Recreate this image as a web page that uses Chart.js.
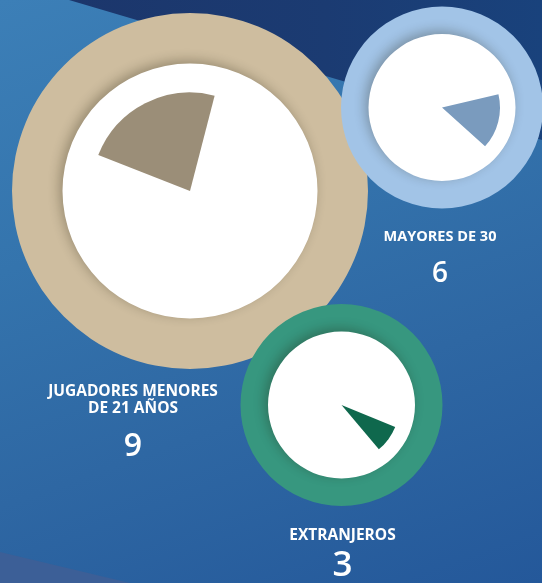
<!DOCTYPE html>
<html>
<head>
<meta charset="utf-8">
<script src="https://cdn.jsdelivr.net/npm/chart.js@4.4.1/dist/chart.umd.min.js"></script>
<style>
  html, body { margin: 0; padding: 0; }
  body { width: 542px; height: 583px; overflow: hidden; position: relative;
         font-family: "Open Sans", "Noto Sans", sans-serif; }
  #bg { position: absolute; left: 0; top: 0; width: 542px; height: 583px;
        background: linear-gradient(160deg, #3c7fb7 0%, #3474ad 35%, #2e67a3 65%, #24589a 100%); }
  #navy { position: absolute; left: 0; top: 0; width: 542px; height: 583px;
          background: linear-gradient(90deg, #1c356a 0%, #1b3b72 60%, #19427c 100%);
          clip-path: polygon(69px 0, 542px 0, 542px 140px); }
  #foot { position: absolute; left: 0; top: 0; width: 542px; height: 583px;
          background: #3c5f97;
          clip-path: polygon(0 552px, 130px 583px, 0 583px); }
  canvas.layer { position: absolute; left: 0; top: 0; }
  .lbl { position: absolute; width: 300px; text-align: center; color: #fff; white-space: nowrap; }
  .cat { font-weight: 700; }
  .num { font-weight: 600; }
</style>
</head>
<body>
<div id="bg"></div>
<div id="navy"></div>
<div id="foot"></div>
<div id="layers"></div>
<div id="labels"></div>
<script>
// ---- data ----
const categories = ['JUGADORES MENORES\nDE 21 AÑOS', 'MAYORES DE 30', 'EXTRANJEROS'];
const counts = [9, 6, 3];
const squadTotal = 39;

// ---- styling / layout (not data) ----
const ringColors  = ['#cebd9f', '#a2c4e7', '#37977f'];
const wedgeColors = ['#9b8e78', '#7a9bbe', '#0f684d'];
const centers     = [[190, 191], [442, 107.5], [341.5, 405]];
const outerR      = [178, 101, 101];
const innerR      = [127.5, 73.5, 73.5];
const wedgeR      = [98.5, 58, 58];
const wedgeStart  = [-68.6, 76.7, 112.2];
const labelStyle  = [
  { cx: 133, catTop: 381.5, catSize: 15.5, catLH: 17.8, numTop: 428, numSize: 32 },
  { cx: 440, catTop: 228, catSize: 14.5, catLH: 16,   numTop: 257, numSize: 28 },
  { cx: 342.5, catTop: 524.5, catSize: 15.5, catLH: 18, numTop: 545, numSize: 35 }
];
const W = 542, H = 583;

const shadowPlugin = {
  id: 'discShadow',
  beforeDatasetDraw(chart) {
    const ctx = chart.ctx;
    ctx.save();
    ctx.shadowColor = 'rgba(30,25,10,0.30)';
    ctx.shadowBlur = 12;
    ctx.shadowOffsetX = -3;
    ctx.shadowOffsetY = -3;
  },
  afterDatasetDraw(chart) { chart.ctx.restore(); }
};

function padFor(cx, cy) {
  return {
    left: Math.max(0, 2 * cx - W), right: Math.max(0, W - 2 * cx),
    top: Math.max(0, 2 * cy - H), bottom: Math.max(0, H - 2 * cy)
  };
}

function layer(i, label, data, colors, radius, rotation, plugins) {
  const cv = document.createElement('canvas');
  cv.className = 'layer';
  cv.width = W; cv.height = H;
  document.getElementById('layers').appendChild(cv);
  return new Chart(cv, {
    type: 'pie',
    data: {
      labels: label,
      datasets: [{ data: data, backgroundColor: colors, borderWidth: 0, rotation: rotation }]
    },
    options: {
      responsive: false,
      animation: false,
      events: [],
      radius: radius,
      layout: { padding: padFor(centers[i][0], centers[i][1]) },
      plugins: { legend: { display: false }, tooltip: { enabled: false }, title: { display: false } }
    },
    plugins: plugins || []
  });
}

categories.forEach((cat, i) => {
  // coloured outer disc (the ring)
  layer(i, [cat], [1], [ringColors[i]], outerR[i], 0);
  // white face with soft shadow
  layer(i, [cat], [1], ['#ffffff'], innerR[i], 0, [shadowPlugin]);
  // the count as a share of the squad
  layer(i, [cat, 'resto'], [counts[i], squadTotal - counts[i]],
        [wedgeColors[i], 'rgba(255,255,255,0)'], wedgeR[i], wedgeStart[i]);

  const s = labelStyle[i];
  const holder = document.getElementById('labels');
  const c = document.createElement('div');
  c.className = 'lbl cat';
  c.style.left = (s.cx - 150) + 'px';
  c.style.top = s.catTop + 'px';
  c.style.fontSize = s.catSize + 'px';
  c.style.lineHeight = s.catLH + 'px';
  c.innerHTML = cat.split('\n').join('<br>');
  holder.appendChild(c);
  const n = document.createElement('div');
  n.className = 'lbl num';
  n.style.left = (s.cx - 150) + 'px';
  n.style.top = s.numTop + 'px';
  n.style.fontSize = s.numSize + 'px';
  n.style.lineHeight = s.numSize + 'px';
  n.textContent = String(counts[i]);
  holder.appendChild(n);
});
</script>
</body>
</html>
